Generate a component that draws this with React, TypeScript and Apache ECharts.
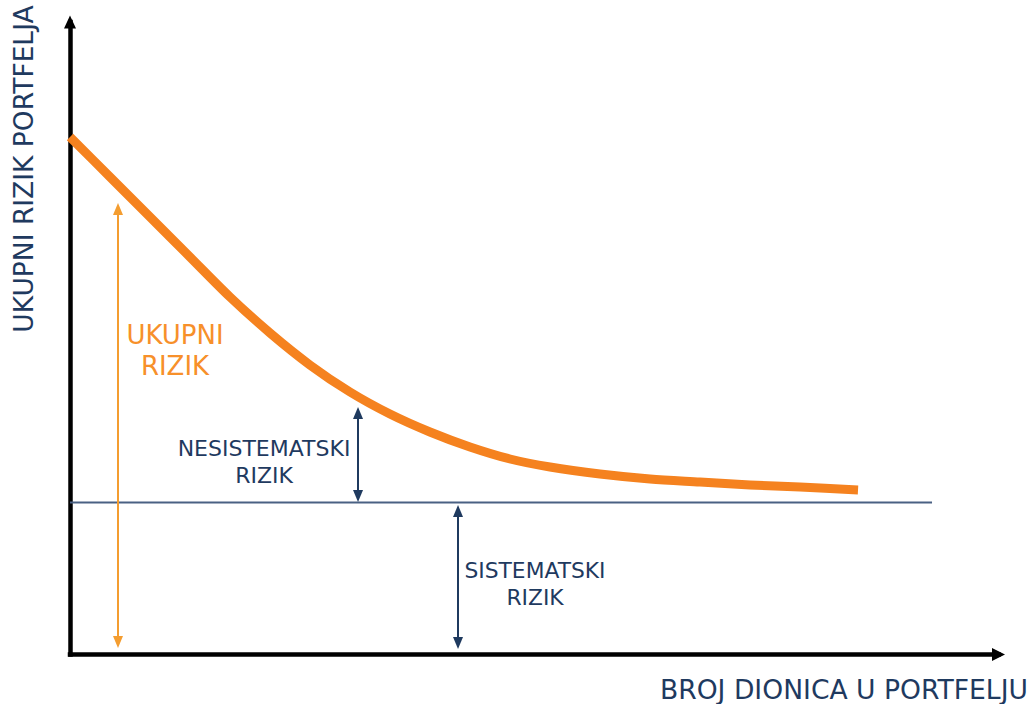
import React, { useEffect, useRef } from "react";
import * as echarts from "echarts";

// Number of stocks (0–100 scale) and total portfolio risk (0–100 scale)
const stockCounts = [0, 4.31, 8.62, 12.92, 17.23, 21.54, 25.85, 30.16, 34.46, 38.77, 43.08, 47.39, 51.7, 57.08, 62.47, 67.85, 73.24, 78.62, 84.87];
const totalRisk = [81.82, 75.49, 69.17, 62.85, 56.52, 50.83, 45.77, 41.5, 38.02, 35.18, 32.81, 30.91, 29.64, 28.54, 27.75, 27.27, 26.8, 26.48, 26.01];

// Systematic risk level and its extent
const systematicLevel = 24.03;
const systematicExtent = [0, 92.84];

// Annotation arrows: [x, yFrom, yTo]
const totalArrow = [5.17, 1.98, 70.43];
const unsystematicArrow = [31.02, 25.06, 38.18];
const systematicArrow = [41.79, 1.82, 22.69];

const xTitle = "BROJ DIONICA U PORTFELJU";
const yTitle = "UKUPNI RIZIK PORTFELJA";
const totalLabel = "UKUPNI\nRIZIK";
const unsysLabel = "NESISTEMATSKI\nRIZIK";
const sysLabel = "SISTEMATSKI\nRIZIK";

const NAVY = "#1f3a5f";
const ORANGE = "#f5821f";
const ORANGE_LIGHT = "#f49d30";
const FONT = "DejaVu Sans";

export default function App() {
  const ref = useRef<HTMLDivElement>(null);
  useEffect(() => {
    if (!ref.current) return;
    const chart = echarts.init(ref.current, undefined, { renderer: "svg" });
    const arrowItem = (a: number[], color: string) => [
      {
        coord: [a[0], a[1]],
        lineStyle: { color, width: 2, type: "solid" },
        itemStyle: { color },
      },
      { coord: [a[0], a[2]] },
    ];
    chart.setOption({
      animation: false,
      grid: { left: 70, right: 32.5, top: 22, bottom: 49.5 },
      xAxis: {
        type: "value",
        min: 0,
        max: 100,
        axisLine: {
          show: true,
          onZero: false,
          symbol: ["none", "triangle"],
          symbolSize: [13, 13],
          lineStyle: { color: "#000", width: 4.5, cap: "square" },
        },
        axisTick: { show: false },
        axisLabel: { show: false },
        splitLine: { show: false },
      },
      yAxis: {
        type: "value",
        min: 0,
        max: 100,
        axisLine: {
          show: true,
          onZero: false,
          symbol: ["none", "triangle"],
          symbolSize: [12, 13],
          lineStyle: { color: "#000", width: 4.5, cap: "square" },
        },
        axisTick: { show: false },
        axisLabel: { show: false },
        splitLine: { show: false },
      },
      series: [
        {
          type: "line",
          data: systematicExtent.map((x) => [x, systematicLevel]),
          showSymbol: false,
          silent: true,
          lineStyle: { color: "#4a6183", width: 1.8 },
          z: 1,
          markLine: {
            silent: true,
            symbol: ["triangle", "triangle"],
            symbolSize: [10, 12],
            label: { show: false },
            emphasis: { disabled: true },
            data: [
              arrowItem(totalArrow, ORANGE_LIGHT),
              arrowItem(unsystematicArrow, NAVY),
              arrowItem(systematicArrow, NAVY),
            ],
          },
        },
        {
          type: "line",
          data: stockCounts.map((x, i) => [x, totalRisk[i]]),
          smooth: 0.3,
          showSymbol: false,
          silent: true,
          lineStyle: { color: ORANGE, width: 9, cap: "butt", join: "round" },
          z: 3,
        },
      ],
      graphic: [
        {
          type: "text",
          x: 23,
          y: 169,
          rotation: Math.PI / 2,
          style: { text: yTitle, font: `26.5px '${FONT}'`, fill: NAVY, align: "center", verticalAlign: "middle" },
        },
        {
          type: "text",
          x: 1028,
          y: 689,
          style: { text: xTitle, font: `26.6px '${FONT}'`, fill: NAVY, align: "right", verticalAlign: "middle" },
        },
        {
          type: "text",
          x: 175,
          y: 350,
          style: { text: totalLabel, font: `26px '${FONT}'`, lineHeight: 31, fill: "#f7902a", align: "center", verticalAlign: "middle" },
        },
        {
          type: "text",
          x: 264,
          y: 462,
          style: { text: unsysLabel, font: `22px '${FONT}'`, lineHeight: 27, fill: NAVY, align: "center", verticalAlign: "middle" },
        },
        {
          type: "text",
          x: 535,
          y: 584,
          style: { text: sysLabel, font: `21.8px '${FONT}'`, lineHeight: 27, fill: NAVY, align: "center", verticalAlign: "middle" },
        },
      ],
    });
    return () => chart.dispose();
  }, []);
  return <div ref={ref} style={{ width: 1031, height: 704, position: "absolute", left: 0, top: 0 }} />;
}
